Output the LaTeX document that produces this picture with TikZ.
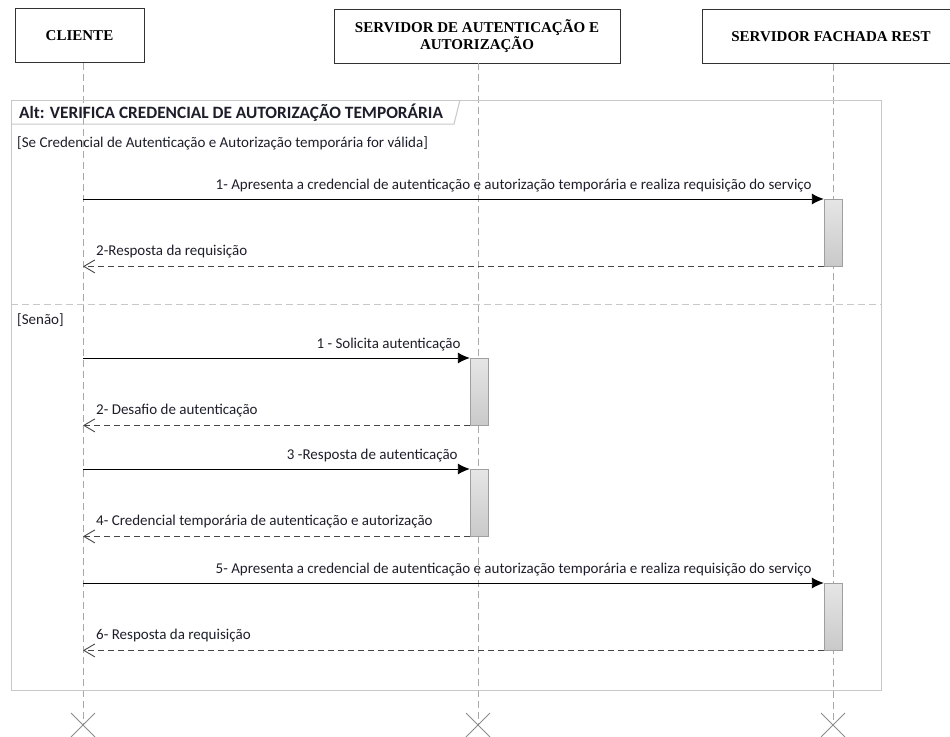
\documentclass[tikz,border=0pt]{standalone}
\usepackage{fontspec}
\setmainfont{Carlito}
\newfontfamily\headfont{Liberation Serif}
\usetikzlibrary{arrows.meta,positioning,calc}

\definecolor{linegray}{HTML}{A8A8A8}
\definecolor{framegray}{HTML}{C8C8C8}
\definecolor{msgtext}{HTML}{1E1E2A}

\begin{document}
\begin{tikzpicture}[x=1pt, y=-1pt,
  actor/.style={draw=black!80, line width=0.9pt, minimum height=54pt, inner sep=2pt, align=center,
    font=\headfont\bfseries\fontsize{15}{17}\selectfont},
  lifeline/.style={draw=linegray, line width=0.9pt, dash pattern=on 7pt off 4pt},
  activation/.style={draw=gray!75, top color=gray!20, bottom color=gray!42, minimum width=18pt,
    minimum height=67pt, inner sep=0pt, anchor=north},
  call/.style={draw=black, line width=0.9pt, -{Latex[length=12pt,width=11pt]}},
  reply/.style={draw=black!72, line width=0.9pt, dash pattern=on 6pt off 4pt,
    -{Straight Barb[length=11pt,width=13pt]}},
  msg/.style={font=\fontsize{15}{17}\selectfont, text=msgtext, inner sep=0pt},
  guard/.style={font=\fontsize{15}{17}\selectfont, text=msgtext, inner sep=0pt, anchor=west}]
\useasboundingbox (0,0) rectangle (950,736);

% participants
\node[actor, minimum width=129pt] (cliente) at (79.5,35.5) {CLIENTE};
\node[actor, minimum width=286pt] (autent) at (477,36) {SERVIDOR DE AUTENTICAÇÃO E\\AUTORIZAÇÃO};
\node[actor, minimum width=258pt] (fachada) at (831,36.5) {SERVIDOR FACHADA REST};

% lifelines
\coordinate (cli) at (83,725);
\coordinate (aut) at (478,725);
\coordinate (fac) at (833,725);
\draw[lifeline] (cli |- cliente.south) -- (cli);
\draw[lifeline] (aut |- autent.south) -- (aut);
\draw[lifeline] (fac |- fachada.south) -- (fac);
\foreach \p in {cli,aut,fac}
  \draw[draw=gray!90, line width=0.8pt] ($(\p)+(-12,-12)$) -- ($(\p)+(12,12)$)
    ($(\p)+(-12,12)$) -- ($(\p)+(12,-12)$);

% alt frame
\draw[framegray, line width=1pt] (11,100) rectangle (881,690);
\draw[framegray, line width=1pt] (11,124) -- (454,124) -- (460,100);
\node[anchor=west, inner sep=0pt, text=msgtext, font=\bfseries\fontsize{17.3}{19}\selectfont] (alt) at (19,112.5)
  {Alt: VERIFICA CREDENCIAL DE AUTORIZAÇÃO TEMPORÁRIA};
\draw[framegray, line width=1pt, dash pattern=on 7pt off 4pt] (11,304) -- (881,304);
\node[guard] (g1) at (17,143) {[Se Credencial de Autenticação e Autorização temporária for válida]};
\node[guard] (g2) at (17,320) {[Senão]};

% activations
\node[activation] (fa1) at (833,199) {};
\node[activation] (au1) at (479,358) {};
\node[activation] (au2) at (479,469) {};
\node[activation] (fa2) at (833,583) {};

% first operand
\draw[call] (cli |- fa1.north) -- (fa1.north west);
\node[msg, above left=7pt and 12pt of fa1.north west] (m1)
  {1- Apresenta a credencial de autenticação e autorização temporária e realiza requisição do serviço};
\draw[reply] (fa1.south west) -- (cli |- fa1.south);
\node[msg, above right=8pt and 13pt of cli |- fa1.south] (m2) {2-Resposta da requisição};

% second operand
\draw[call] (cli |- au1.north) -- (au1.north west);
\node[msg, above left=7pt and 9pt of au1.north west] (m3) {1 - Solicita autenticação};
\draw[reply] (au1.south west) -- (cli |- au1.south);
\node[msg, above right=8pt and 13pt of cli |- au1.south] (m4) {2- Desafio de autenticação};
\draw[call] (cli |- au2.north) -- (au2.north west);
\node[msg, above left=7pt and 12pt of au2.north west] (m5) {3 -Resposta de autenticação};
\draw[reply] (au2.south west) -- (cli |- au2.south);
\node[msg, above right=8pt and 13pt of cli |- au2.south] (m6) {4- Credencial temporária de autenticação e autorização};
\draw[call] (cli |- fa2.north) -- (fa2.north west);
\node[msg, above left=7pt and 12pt of fa2.north west] (m7)
  {5- Apresenta a credencial de autenticação e autorização temporária e realiza requisição do serviço};
\draw[reply] (fa2.south west) -- (cli |- fa2.south);
\node[msg, above right=8pt and 13pt of cli |- fa2.south] (m8) {6- Resposta da requisição};
\end{tikzpicture}
\end{document}
